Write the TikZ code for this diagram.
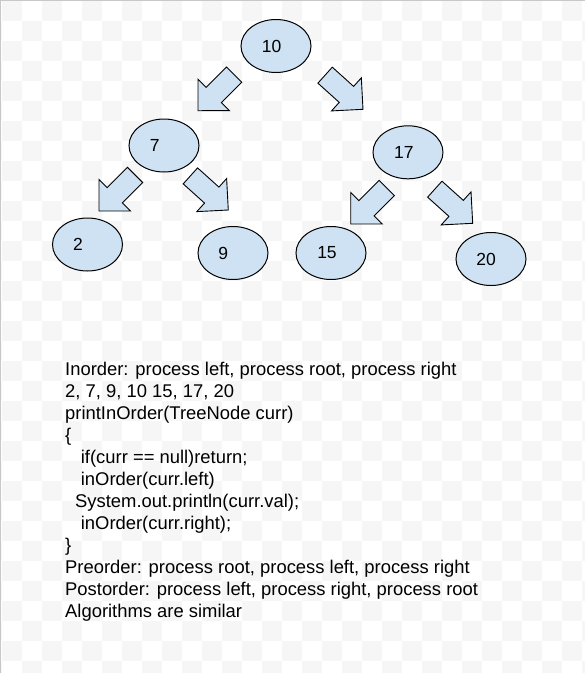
\documentclass[tikz,border=0pt]{standalone}
\usepackage{fontspec}
\setmainfont{Liberation Sans}
\usetikzlibrary{shapes.geometric}
\definecolor{nodefill}{HTML}{CFE2F3}
\definecolor{checker}{RGB}{246,246,246}
\definecolor{frame}{RGB}{200,200,200}
\newcommand\blockarrow[3]{%
  \draw[barr,shift={(#1,#2)},rotate=#3] (0,0) -- (-22.3,22.25) -- (-22.3,10.75) -- (-51,10.75)
    -- (-51,-10.75) -- (-22.3,-10.75) -- (-22.3,-22.25) -- cycle;}
\begin{document}
\begin{tikzpicture}[x=1pt,y=-1pt,
  tn/.style={ellipse,draw=black,line width=1pt,fill=nodefill,minimum width=70pt,
    minimum height=53pt,inner sep=0pt},
  numlabel/.style={font=\fontsize{17.5}{20}\selectfont,inner sep=0pt},
  barr/.style={draw=black,line width=0.9pt,fill=nodefill,line join=miter},
  bodytext/.style={anchor=base west,align=left,inner sep=0pt,
    font=\fontsize{18.4}{22.06}\selectfont}]
\useasboundingbox (0,0) rectangle (585,673);
% background checkerboard
\begin{scope}
  \clip (0,0) rectangle (585,673);
  \fill[white] (0,0) rectangle (585,673);
  \foreach \i in {-1,...,29}{\foreach \j in {-1,...,33}{
    \pgfmathtruncatemacro\cellpar{mod(\i+\j+2,2)}%
    \ifnum\cellpar=0 \fill[checker] ({1.7+20*\i},{0.7+20*\j}) rectangle ++(20,20);\fi
  }}
\end{scope}
\draw[frame,line width=1pt] (0.5,673) -- (0.5,0.5) -- (585,0.5);

% tree nodes
\node[tn,label={[numlabel,xshift=-4.3pt]center:10}] (n10) at (276,46) {};
\node[tn,label={[numlabel,xshift=-9.2pt]center:7}] (n7) at (164,145.5) {};
\node[tn,label={[numlabel,xshift=-4.2pt]center:17}] (n17) at (408,152.3) {};
\node[tn,label={[numlabel,xshift=-9.5pt]center:2}] (n2) at (87.5,244.5) {};
\node[tn,label={[numlabel,xshift=-9.7pt]center:9}] (n9) at (233,253) {};
\node[tn,label={[numlabel,xshift=-4pt]center:15}] (n15) at (331,253) {};
\node[tn,label={[numlabel,xshift=-5pt]center:20}] (n20) at (491,259) {};

% block arrows
\blockarrow{198}{110.7}{225}
\blockarrow{363}{109.3}{-42}
\blockarrow{99}{211}{225}
\blockarrow{228.3}{210}{-42}
\blockarrow{350.7}{224}{225}
\blockarrow{472.7}{223.3}{-42}

% text (anchor = baseline of last line)
\node[bodytext] (txt) at (65,617.7) {Inorder: process left, process root, process right\\
2, 7, 9, 10 15, 17, 20\\
printInOrder(TreeNode curr)\\
\{\\
\hspace*{15.7pt}if(curr == null)return;\\
\hspace*{15.7pt}inOrder(curr.left)\\
\hspace*{10pt}System.out.println(curr.val);\\
\hspace*{15.7pt}inOrder(curr.right);\\
\}\\
Preorder: process root, process left, process right\\
Postorder: process left, process right, process root\\
Algorithms are similar};
\end{tikzpicture}
\end{document}
